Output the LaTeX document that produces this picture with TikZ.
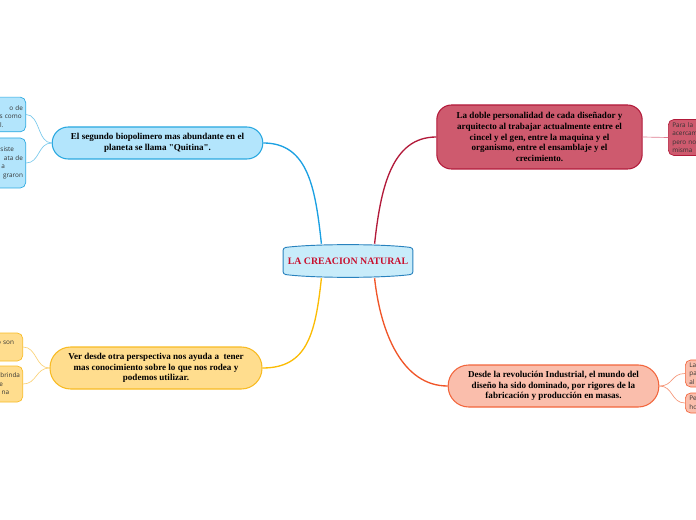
\documentclass[tikz,border=0pt]{standalone}
\usepackage{fontspec}
\setmainfont{Liberation Serif}
\newfontfamily\leafsans{Open Sans}
\usetikzlibrary{backgrounds}
\definecolor{rootred}{RGB}{200,16,46}
\definecolor{rootfill}{RGB}{200,236,250}
\definecolor{rootedge}{RGB}{40,130,190}
\definecolor{skyline}{RGB}{27,160,226}
\definecolor{skyfill}{RGB}{179,229,252}
\definecolor{skyedge}{RGB}{41,168,224}
\definecolor{skytwig}{RGB}{120,200,235}
\definecolor{sunline}{RGB}{251,188,5}
\definecolor{sunfill}{RGB}{255,221,142}
\definecolor{sunedge}{RGB}{248,187,36}
\definecolor{suntwig}{RGB}{250,210,120}
\definecolor{wineline}{RGB}{178,26,58}
\definecolor{winefill}{RGB}{206,90,110}
\definecolor{wineedge}{RGB}{178,26,58}
\definecolor{winetwig}{RGB}{222,125,145}
\definecolor{coralline}{RGB}{240,85,40}
\definecolor{coralfill}{RGB}{250,190,172}
\definecolor{coraledge}{RGB}{242,101,60}
\definecolor{coraltwig}{RGB}{245,150,120}
\newcommand{\lgap}[1]{\rule{#1}{0pt}}
\tikzset{
  topic/.style={draw, line width=0.8pt, inner sep=2pt, align=center,
              font=\bfseries\fontsize{6.8}{8.1}\selectfont},
  rootbox/.style={draw=rootedge, line width=0.7pt, fill=rootfill, rounded corners=2pt},
  leaf/.style={draw, line width=0.5pt, rounded corners=4pt, inner xsep=2pt, inner ysep=2pt,
              minimum width=60pt, text=black!80, font=\leafsans\fontsize{4.8}{6.4}\selectfont},
  lleaf/.style={anchor=east, align=right, text width=56pt},
  rleaf/.style={anchor=west, align=left, text width=54pt, inner xsep=3pt},
  branch/.style={line width=1pt},
  twig/.style={line width=0.5pt},
}
\begin{document}
\begin{tikzpicture}[x=0.75pt,y=-0.75pt]
  \useasboundingbox (0,0) rectangle (696,520);
  \clip (0,0) rectangle (696,520);
  % centre
  \node[font=\bfseries\fontsize{7.4}{8.4}\selectfont, text=rootred, minimum width=96pt, minimum height=25.5pt] (root) at (348,261) {LA CREACION NATURAL};
  \begin{scope}[on background layer]
    \draw[rootbox] ([yshift=-3pt]root.north west) .. controls ([xshift=24pt]root.north west) and ([xshift=-24pt]root.north east) .. ([yshift=-3pt]root.north east)
      -- ([yshift=3pt]root.south east) .. controls ([xshift=-24pt]root.south east) and ([xshift=24pt]root.south west) .. ([yshift=3pt]root.south west) -- cycle;
  \end{scope}
  % main topics
  \node[topic, draw=skyedge, fill=skyfill, rounded corners=12pt, minimum width=158pt, minimum height=24pt] (quitina) at (157.5,143)
    {El segundo biopolimero mas abundante en el\\planeta se llama \textquotedbl Quitina\textquotedbl.};
  \node[topic, draw=sunedge, fill=sunfill, rounded corners=15.5pt, minimum width=159pt, minimum height=31.5pt] (mirada) at (156,368)
    {Ver desde otra perspectiva nos ayuda a\ \ tener\\mas conocimiento sobre lo que nos rodea y\\podemos utilizar.};
  \node[topic, draw=wineedge, fill=winefill, rounded corners=11pt, minimum width=154pt, minimum height=48pt] (diseno) at (539.5,137)
    {La doble personalidad de cada diseñador y\\arquitecto al trabajar actualmente entre el\\cincel y el gen, entre la maquina y el\\organismo, entre el ensamblaje y el\\crecimiento.};
  \node[topic, draw=coraledge, fill=coralfill, rounded corners=15.5pt, minimum width=158pt, minimum height=31.5pt] (industria) at (553.5,386)
    {Desde la revolución Industrial, el mundo del\\diseño ha sido dominado, por rigores de la\\fabricación y producción en masas.};
  % leaves
  \node[leaf, lleaf, draw=skyedge, fill=skyfill, minimum height=26pt] (quitina1) at (26,114.5) {\mbox{}\\o de\\s como\lgap{1pt}\\l.\lgap{14.6pt}};
  \node[leaf, lleaf, draw=skyedge, fill=skyfill, minimum height=37.5pt] (quitina2) at (26,163) {siste\lgap{6.7pt}\\ata de\\a\lgap{13.5pt}\\graron};
  \node[leaf, lleaf, draw=sunedge, fill=sunfill, minimum height=21pt] (mirada1) at (23,347) {o son\lgap{4.5pt}\\\mbox{}};
  \node[leaf, lleaf, draw=sunedge, fill=sunfill, minimum height=27pt] (mirada2) at (23,384) {brinda\\e\lgap{12.7pt}\\na\lgap{8.2pt}};
  \node[leaf, rleaf, draw=wineedge, fill=winefill, minimum height=26pt] (diseno1) at (668,137.5) {Para la\\acercam\\pero no\\misma};
  \node[leaf, rleaf, draw=coraledge, fill=coralfill, minimum height=20pt] (industria1) at (685,373.5) {La\\pa\\al};
  \node[leaf, rleaf, draw=coraledge, fill=coralfill, minimum height=15pt] (industria2) at (685,403) {Pe\\ho};
  % branches
  \draw[branch, skyline] (root.147) .. controls +(-6,-55) and +(45,0) .. (quitina.east);
  \draw[branch, sunline] (root.213) .. controls +(-6,55) and +(45,0) .. (mirada.east);
  \draw[branch, wineline] (root.33) .. controls +(6,-55) and +(-45,0) .. (diseno.west);
  \draw[branch, coralline] (root.327) .. controls +(6,55) and +(-45,0) .. (industria.west);
  \draw[twig, skytwig] (quitina.west) .. controls +(-14,0) and +(14,0) .. (quitina1.east);
  \draw[twig, skytwig] (quitina.west) .. controls +(-14,0) and +(14,0) .. (quitina2.east);
  \draw[twig, suntwig] (mirada.west) .. controls +(-14,0) and +(14,0) .. (mirada1.east);
  \draw[twig, suntwig] (mirada.west) .. controls +(-14,0) and +(14,0) .. (mirada2.east);
  \draw[twig, winetwig] (diseno.east) -- (diseno1.west);
  \draw[twig, coraltwig] (industria.east) .. controls +(14,0) and +(-14,0) .. (industria1.west);
  \draw[twig, coraltwig] (industria.east) .. controls +(14,0) and +(-14,0) .. (industria2.west);
\end{tikzpicture}
\end{document}
